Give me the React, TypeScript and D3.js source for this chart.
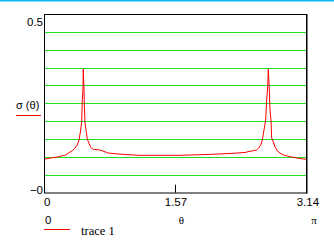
import React from "react";
import * as d3 from "d3";

const thetaValues = [
  0, 0.0995, 0.159, 0.219, 0.26, 0.3, 0.339, 0.368, 0.399, 0.42, 0.44, 0.452, 0.459, 0.468, 0.471,
  0.48, 0.483, 0.492, 0.507, 0.519, 0.54, 0.56, 0.591, 0.671, 0.719, 0.755, 0.767, 0.935, 1.139,
  1.631, 2.015, 2.23, 2.41, 2.446, 2.55, 2.57, 2.598, 2.618, 2.638, 2.658, 2.67, 2.682, 2.69,
  2.702, 2.71, 2.722, 2.73, 2.75, 2.77, 2.798, 2.83, 2.87, 2.917, 2.97, 3.03, 3.109, 3.1416,
];
const sigmaValues = [
  0.0935, 0.098, 0.0999, 0.1035, 0.1055, 0.112, 0.1175, 0.124, 0.1335, 0.1475, 0.1754, 0.1987,
  0.2594, 0.293, 0.346, 0.287, 0.251, 0.195, 0.1707, 0.15, 0.138, 0.127, 0.1214, 0.1195, 0.1153,
  0.1125, 0.111, 0.1074, 0.1046, 0.1046, 0.1074, 0.1097, 0.1125, 0.1147, 0.1195, 0.124, 0.1335,
  0.1475, 0.1754, 0.203, 0.259, 0.296, 0.346, 0.287, 0.232, 0.203, 0.153, 0.142, 0.128, 0.1167,
  0.111, 0.1055, 0.1027, 0.0999, 0.0971, 0.0943, 0.0935,
];
const xTickValues = [0, 1.57, 3.14];
const xTickLabels = ["0", "1.57", "3.14"];
const yTickValues = [0, 0.5];
const yTickLabels = ["\u22120", "0.5"];
const gridValues = [0.05, 0.1, 0.15, 0.2, 0.25, 0.3, 0.35, 0.4, 0.45];
const yAxisTitle = "\u03c3 (\u03b8)";
const xAxisTitle = "\u03b8";
const xAxisMaxLabel = "\u03c0";
const legendLabel = "trace 1";
const legendValue = "0";

export default function App() {
  const W = 334, H = 245;
  const left = 44, right = 306, top = 14, bottom = 192.7;
  const x = d3.scaleLinear().domain([0, Math.PI]).range([left, right]);
  const y = d3.scaleLinear().domain([0, 0.5]).range([bottom, top]);
  const data = thetaValues.map((t, i) => [t, sigmaValues[i]] as [number, number]);
  const line = d3.line<[number, number]>().x((d) => x(d[0])).y((d) => y(d[1]));
  const sans = "'Liberation Sans', Arial, sans-serif";
  const serif = "'Liberation Serif', 'Times New Roman', serif";

  return (
    <svg width={W} height={H} style={{ position: "absolute", left: 0, top: 0, background: "#fff" }}>
      <rect x={0} y={0} width={W} height={H} fill="#fff" />
      <line x1={0} x2={W} y1={0.5} y2={0.5} stroke="#10b4f4" strokeWidth={2} />
      {gridValues.map((g) => (
        <line key={g} x1={left} x2={right} y1={Math.round(y(g)) + 0.5} y2={Math.round(y(g)) + 0.5} stroke="#22dd22" strokeWidth={1} />
      ))}
      <path d={line(data) || ""} fill="none" stroke="#ff0000" strokeWidth={1} />
      <rect x={left + 0.5} y={top + 0.5} width={right - left} height={bottom - top - 0.2} fill="none" stroke="#000" strokeWidth={1} />
      <line x1={right + 1} x2={right + 1} y1={top} y2={bottom + 1} stroke="#000" strokeWidth={1} />
      {xTickValues.map((v, i) =>
        i > 0 && i < xTickValues.length - 1 ? (
          <line key={"t" + v} x1={Math.round(x(v)) + 0.5} x2={Math.round(x(v)) + 0.5} y1={bottom} y2={bottom - 8} stroke="#000" />
        ) : null
      )}
      {xTickValues.map((v, i) => (
        <text
          key={"xl" + v}
          x={i === 0 ? x(v) : i === xTickValues.length - 1 ? x(v) + 2 : x(v) + 1}
          y={206}
          textAnchor={i === 0 ? "start" : "middle"}
          fontFamily={sans}
          fontSize={11.5}
          fill="#000"
        >
          {xTickLabels[i]}
        </text>
      ))}
      {yTickValues.map((v, i) => (
        <text
          key={"yl" + v}
          x={left - 1}
          y={i === 0 ? y(v) + 1.5 : y(v) + 12}
          textAnchor="end"
          fontFamily={sans}
          fontSize={11.5}
          fill="#000"
        >
          {yTickLabels[i]}
        </text>
      ))}
      <text x={181.5} y={224} textAnchor="middle" fontFamily={serif} fontSize={11} fill="#000">
        {xAxisTitle}
      </text>
      <text x={314} y={224} textAnchor="middle" fontFamily={serif} fontSize={11} fill="#000">
        {xAxisMaxLabel}
      </text>
      <text x={16} y={109} fontFamily={sans} fontSize={11} fill="#000">
        {yAxisTitle}
      </text>
      <line x1={16} x2={41} y1={115.5} y2={115.5} stroke="#ff0000" strokeWidth={1} />
      <text x={45} y={224} fontFamily={sans} fontSize={11.5} fill="#000">
        {legendValue}
      </text>
      <line x1={44} x2={70} y1={229.5} y2={229.5} stroke="#ff0000" strokeWidth={1} />
      <text x={81} y={235} fontFamily={serif} fontSize={12.5} fill="#000">
        {legendLabel}
      </text>
    </svg>
  );
}
